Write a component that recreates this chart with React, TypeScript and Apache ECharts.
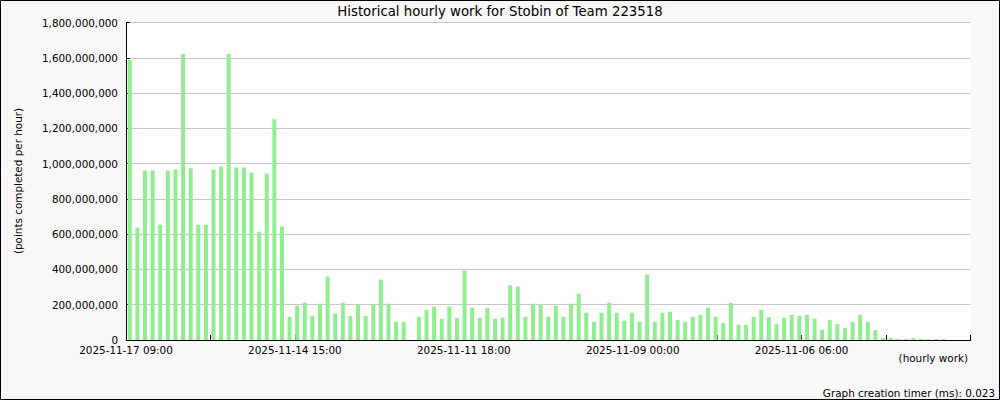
import React, { useEffect, useRef } from "react";
import * as echarts from "echarts";

// Bar values (millions of points per hour), newest slot first (3-hour slots)
const valuesMillions: (number | null)[] = [
  1587, 637, 961, 961, 654, 961, 967, 1621, 973, 654,
  654, 967, 984, 1621, 978, 978, 950, 614, 944, 1251,
  643, 131, 194, 211, 137, 206, 360, 149, 211, 137,
  198, 137, 198, 343, 206, 103, 103, null, 131, 171,
  189, 120, 189, 126, 394, 183, 126, 183, 120, 126,
  309, 303, 131, 206, 198, 131, 194, 131, 206, 263,
  154, 103, 154, 211, 154, 109, 154, 103, 371, 103,
  154, 160, 114, 103, 131, 143, 183, 131, 97, 211,
  86, 86, 131, 171, 131, 91, 126, 143, 137, 143,
  120, 57, 114, 91, 69, 103, 143, 103, 57, 11,
  11, 6, 6, 11, 6, 6, 6, 6,
];

const SLOT_COUNT = 111;
const START_MS = Date.UTC(2025, 10, 17, 9, 0);
const pad = (n: number) => String(n).padStart(2, "0");
const categories: string[] = Array.from({ length: SLOT_COUNT }, (_, i) => {
  const d = new Date(START_MS - i * 3 * 3600 * 1000);
  return `${d.getUTCFullYear()}-${pad(d.getUTCMonth() + 1)}-${pad(d.getUTCDate())} ${pad(d.getUTCHours())}:00`;
});

const tickLabels: string[] = [
  "2025-11-17 09:00", "", "2025-11-14 15:00", "", "2025-11-11 18:00", "",
  "2025-11-09 00:00", "", "2025-11-06 06:00", "", "",
];

const yTicks = { min: 0, max: 1800000000, interval: 200000000 };

const TITLE = "Historical hourly work for Stobin of Team 223518";
const Y_NAME = "(points completed per hour)";
const X_NAME = "(hourly work)";
const FOOTER = "Graph creation timer (ms): 0.023";

const FONT = "DejaVu Sans";

export default function App() {
  const ref = useRef<HTMLDivElement>(null);
  useEffect(() => {
    document.body.style.margin = "0";
    const chart = echarts.init(ref.current!, undefined, { renderer: "svg" });
    const data = valuesMillions.map((v) => (v == null ? null : v * 1e6));
    chart.setOption({
      animation: false,
      backgroundColor: "#f8f8f8",
      textStyle: { fontFamily: FONT },
      title: {
        text: TITLE,
        left: "center",
        top: 0,
        textStyle: { fontFamily: FONT, fontSize: 13.3, fontWeight: "normal", color: "#000" },
      },
      grid: {
        left: 126,
        right: 29.5,
        top: 22.5,
        bottom: 60,
        show: true,
        backgroundColor: "#ffffff",
        borderWidth: 0,
      },
      xAxis: [
        {
          type: "category",
          data: categories,
          boundaryGap: true,
          show: false,
        },
        {
          type: "value",
          min: 0,
          max: 10,
          interval: 1,
          position: "bottom",
          axisLine: { show: true, lineStyle: { color: "#000", width: 1 } },
          axisTick: { show: true, inside: true, length: 5, lineStyle: { color: "#000" } },
          splitLine: { show: false },
          axisLabel: {
            show: true,
            margin: 5,
            color: "#000",
            fontFamily: FONT,
            fontSize: 10.4,
            showMinLabel: true,
            showMaxLabel: true,
            formatter: (v: number) => tickLabels[Math.round(v)] ?? "",
          },
        },
      ],
      yAxis: {
        type: "value",
        min: yTicks.min,
        max: yTicks.max,
        interval: yTicks.interval,
        axisLine: { show: true, lineStyle: { color: "#000", width: 1 } },
        axisTick: { show: true, inside: true, length: 4, lineStyle: { color: "#000" } },
        splitLine: { show: true, lineStyle: { color: "#c8c8c8", width: 1 } },
        axisLabel: {
          margin: 8,
          color: "#000",
          fontFamily: FONT,
          fontSize: 10.4,
          formatter: (v: number) => v.toLocaleString("en-US"),
        },
      },
      series: [
        {
          type: "bar",
          xAxisIndex: 0,
          data,
          barWidth: 4,
          itemStyle: { color: "#90ee90" },
        },
      ],
      graphic: [
        {
          type: "rect",
          shape: { x: 0.5, y: 0.5, width: 999, height: 399 },
          style: { fill: "none", stroke: "#000", lineWidth: 1 },
          z: 100,
        },
        {
          type: "text",
          x: 18,
          y: 181,
          rotation: Math.PI / 2,
          style: {
            text: Y_NAME,
            fill: "#000",
            font: `10.4px "${FONT}"`,
            align: "center",
            verticalAlign: "middle",
          },
        },
        {
          type: "text",
          x: 968,
          y: 358,
          style: {
            text: X_NAME,
            fill: "#000",
            font: `10.4px "${FONT}"`,
            align: "right",
            verticalAlign: "middle",
          },
        },
        {
          type: "text",
          x: 995,
          y: 393,
          style: {
            text: FOOTER,
            fill: "#000",
            font: `10.4px "${FONT}"`,
            align: "right",
            verticalAlign: "middle",
          },
        },
      ],
    });
    return () => chart.dispose();
  }, []);
  return <div ref={ref} style={{ width: 1000, height: 400 }} />;
}
